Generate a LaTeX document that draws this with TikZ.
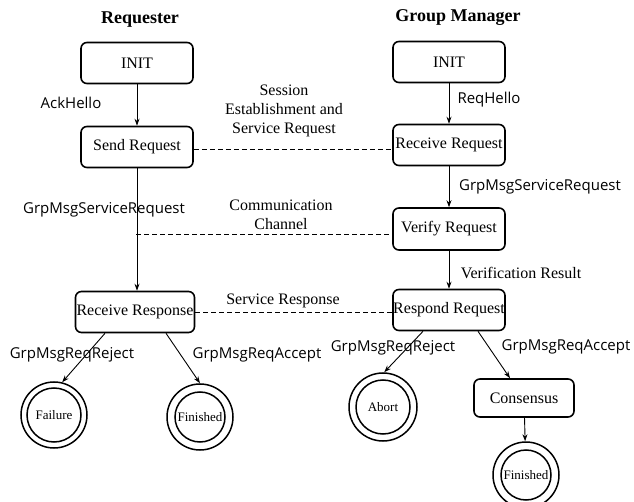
\documentclass[tikz,border=0pt]{standalone}
\usepackage{fontspec}
\setmainfont{Liberation Serif}
\newfontfamily\lblfont{Open Sans}
\usetikzlibrary{arrows.meta}
\begin{document}
\begin{tikzpicture}[x=1pt,y=-1pt,
 box/.style={draw, line width=1.6pt, rounded corners=6pt, minimum width=112pt, minimum height=41pt, inner sep=0pt, font=\fontsize{16}{19}\selectfont},
 endst/.style={draw, circle, line width=1.5pt, minimum size=66pt, inner sep=0pt, font=\fontsize{13}{15}\selectfont},
 inner/.style={line width=1.5pt},
 arr/.style={-{Stealth[length=7pt,width=5pt]}, line width=0.9pt},
 link/.style={dash pattern=on 5pt off 3pt, line width=0.9pt},
 lbl/.style={font=\lblfont\fontsize{15}{18}\selectfont, inner sep=0pt},
 note/.style={font=\fontsize{16}{19}\selectfont, align=center, inner sep=0pt},
 ttl/.style={font=\bfseries\fontsize{18}{21}\selectfont, inner sep=0pt}]
\useasboundingbox (0,0) rectangle (634,502);

% titles
\node[ttl] (t1) at (140,20) {Requester};
\node[ttl] (t2) at (458,18) {Group Manager};

% requester
\node[box] (rinit) at (137,63) {INIT};
\node[box] (send) at (137,147) {Send Request};
\node[box, minimum width=119pt] (rresp) at (135,312) {Receive Response};
\node[endst] (fail) at (54,415) {Failure};
\draw[inner] (fail.center) circle (27);
\node[endst] (finl) at (200,417) {Finished};
\draw[inner] (finl.center) circle (25);

% group manager
\node[box] (ginit) at (449,62) {INIT};
\node[box] (recv) at (449,145) {Receive Request};
\node[box, minimum height=42pt] (verify) at (449,229) {Verify Request};
\node[box] (respond) at (449,310) {Respond Request};
\node[box, minimum width=100pt, minimum height=38pt] (cons) at (524,398) {Consensus};
\node[endst, minimum size=68pt] (abort) at (383,407) {Abort};
\node[endst] (finr) at (526,475) {Finished};
\draw[inner] (abort.center) circle (27);
\draw[inner] (finr.center) circle (25);

% arrows requester
\draw[arr] (rinit) -- (send);
\draw[arr] (send.south) -- (send.south |- rresp.north);
\draw[arr] ([xshift=-30pt]rresp.south) -- (fail.76);
\draw[arr] ([xshift=31pt]rresp.south) -- (finl.north);

% arrows manager
\draw[arr] (ginit) -- (recv);
\draw[arr] (recv) -- (verify);
\draw[arr] (verify) -- (respond);
\draw[arr] ([xshift=-26pt]respond.south) -- (abort.88);
\draw[arr] ([xshift=29pt]respond.south) -- ([xshift=-14pt]cons.north);
\draw[arr] (cons) -- (finr);

% dashed links
\draw[link] ([yshift=-2pt]send.east) -- ([yshift=-2pt]send.east -| recv.west);
\coordinate (cc) at (136,234);
\draw[link] (cc) -- (cc -| verify.west);
\draw[link] (rresp.east) -- (rresp.east -| respond.west);

% labels
\node[lbl] (l1) at (71,103) {AckHello};
\node[lbl] (l2) at (489,100) {ReqHello};
\node[lbl] (l3) at (104,210) {GrpMsgServiceRequest};
\node[lbl] (l4) at (540,187) {GrpMsgServiceRequest};
\node[note] (l5) at (521,273) {Verification Result};
\node[lbl] (l6) at (72,355) {GrpMsgReqReject};
\node[lbl] (l7) at (257,355) {GrpMsgReqAccept};
\node[lbl] (l8) at (393,348) {GrpMsgReqReject};
\node[lbl] (l9) at (566,347) {GrpMsgReqAccept};
\node[note] (n1) at (284,111) {Session\\Establishment and\\Service Request};
\node[note] (n2) at (281,215) {Communication\\Channel};
\node[note] (n3) at (283,301) {Service Response};
\end{tikzpicture}
\end{document}
